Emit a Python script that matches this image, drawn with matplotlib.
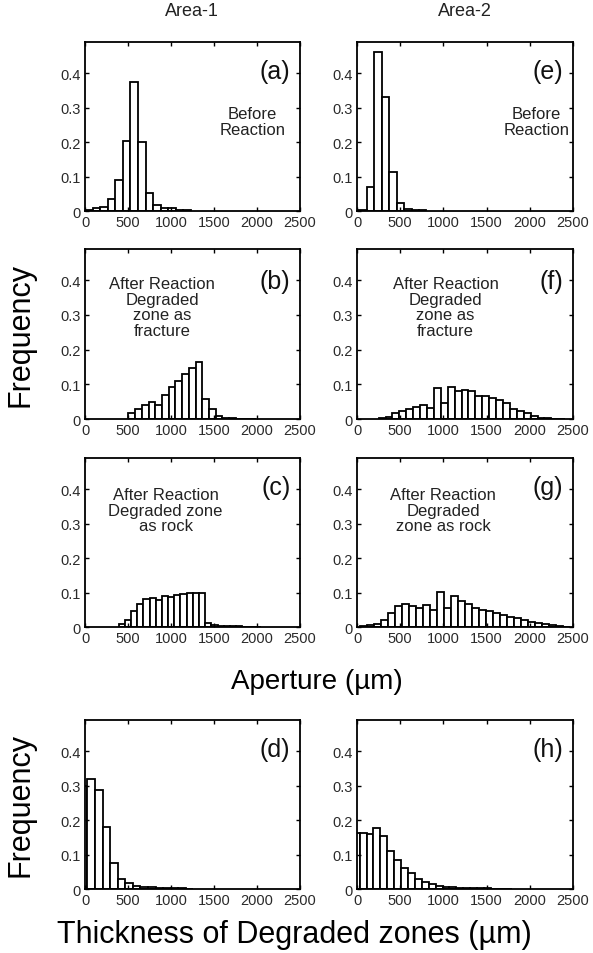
import numpy as np
import matplotlib
matplotlib.use('Agg')
import matplotlib.pyplot as plt

plt.rcParams['font.family'] = ['Liberation Sans', 'DejaVu Sans']

# ---- data: histogram bins (first edge, bin width) and frequencies ----
a_start, a_width = 0, 88
a_freq = [0.003, 0.008, 0.012, 0.036, 0.091, 0.204, 0.375, 0.200, 0.052, 0.018, 0.009, 0.008, 0.002, 0.002]

b_start, b_width = 505, 78
b_freq = [0.018, 0.030, 0.040, 0.050, 0.040, 0.070, 0.093, 0.110, 0.130, 0.147, 0.164, 0.059, 0.030, 0.008,
          0.002, 0.002, 0.001, 0.001, 0.001]

c_start, c_width = 390, 72
c_freq = [0.010, 0.020, 0.045, 0.067, 0.082, 0.084, 0.077, 0.090, 0.088, 0.094, 0.095, 0.100, 0.100, 0.100,
          0.012, 0.006, 0.004, 0.003, 0.002, 0.002, 0.001, 0.001, 0.001]

d_start, d_width = -60, 88
d_freq = [0.300, 0.320, 0.286, 0.180, 0.075, 0.030, 0.017, 0.010, 0.007, 0.005, 0.004, 0.003, 0.002, 0.002, 0.001]

e_start, e_width = 115, 86
e_freq = [0.070, 0.460, 0.330, 0.113, 0.022, 0.007, 0.002, 0.002]
e_first = 0.003   # small bar between 0 and the first bin

f_start, f_width = 250, 80
f_freq = [0.004, 0.007, 0.017, 0.024, 0.030, 0.035, 0.040, 0.033, 0.088, 0.045, 0.093, 0.080, 0.085, 0.080,
          0.065, 0.065, 0.060, 0.055, 0.045, 0.030, 0.022, 0.016, 0.008, 0.004, 0.002, 0.001, 0.001]

g_start, g_width = 30, 81
g_freq = [0.002, 0.005, 0.010, 0.020, 0.040, 0.061, 0.068, 0.061, 0.055, 0.064, 0.050, 0.102, 0.056, 0.090,
          0.076, 0.068, 0.056, 0.050, 0.045, 0.040, 0.035, 0.030, 0.025, 0.020, 0.015, 0.011, 0.008, 0.005,
          0.003, 0.001]

h_start, h_width = -50, 80
h_freq = [0.162, 0.162, 0.159, 0.177, 0.155, 0.110, 0.085, 0.060, 0.045, 0.030, 0.020, 0.015, 0.010, 0.007,
          0.005, 0.004, 0.003, 0.003, 0.002, 0.002, 0.001, 0.001, 0.001]

xticks = [0, 500, 1000, 1500, 2000, 2500]
yticks = [0, 0.1, 0.2, 0.3, 0.4]
ytick_labels = ['0', '0.1', '0.2', '0.3', '0.4']

panels = {
    'a': (a_start, a_width, a_freq, 'Before\nReaction', 0.78, 0.53),
    'b': (b_start, b_width, b_freq, 'After Reaction\nDegraded\nzone as\nfracture', 0.36, 0.66),
    'c': (c_start, c_width, c_freq, 'After Reaction\nDegraded zone\nas rock', 0.375, 0.69),
    'd': (d_start, d_width, d_freq, None, 0, 0),
    'e': (e_start, e_width, e_freq, 'Before\nReaction', 0.83, 0.53),
    'f': (f_start, f_width, f_freq, 'After Reaction\nDegraded\nzone as\nfracture', 0.41, 0.66),
    'g': (g_start, g_width, g_freq, 'After Reaction\nDegraded\nzone as rock', 0.40, 0.69),
    'h': (h_start, h_width, h_freq, None, 0, 0),
}

W, H = 593, 954
fig = plt.figure(figsize=(W / 100, H / 100), dpi=100)

cols = {'a': 0, 'b': 0, 'c': 0, 'd': 0, 'e': 1, 'f': 1, 'g': 1, 'h': 1}
rows = {'a': 0, 'b': 1, 'c': 2, 'd': 3, 'e': 0, 'f': 1, 'g': 2, 'h': 3}
col_px = [(85, 300), (357, 573)]
row_px = [(43, 212), (250, 420), (459, 628), (721, 890)]

for key, (start, width, freq, note, tx, ty) in panels.items():
    l, r = col_px[cols[key]]
    t, b = row_px[rows[key]]
    ax = fig.add_axes([l / W, 1 - b / H, (r - l) / W, (b - t) / H])
    centers = start + width * (np.arange(len(freq)) + 0.5)
    ax.bar(centers, freq, width=width, facecolor='white', edgecolor='black', linewidth=1.3)
    if key == 'e':
        ax.bar(start / 2, e_first, width=start, facecolor='white', edgecolor='black', linewidth=1.3)
    ax.set_xlim(0, 2500)
    ax.set_ylim(0, 0.49)
    ax.set_xticks(xticks)
    ax.set_yticks(yticks)
    ax.set_yticklabels(ytick_labels)
    ax.tick_params(direction='in', top=True, right=True, length=3, width=1,
                   labelsize=10.5, labelcolor='#2a2a2a', pad=3)
    for s in ax.spines.values():
        s.set_linewidth(1.3)
    ax.text(0.955, 0.83 if rows[key] != 1 else 0.81, '(%s)' % key, transform=ax.transAxes,
            ha='right', va='center', fontsize=18, color='#111111')
    if note:
        ax.text(tx, ty, note, transform=ax.transAxes, ha='center', va='center',
                fontsize=12, color='#222222', linespacing=1.05)

fig.text(192 / W, 1 - 12 / H, 'Area-1', ha='center', va='center', fontsize=13, color='#222222')
fig.text(465 / W, 1 - 12 / H, 'Area-2', ha='center', va='center', fontsize=13, color='#222222')
fig.text(20 / W, 1 - 335 / H, 'Frequency', rotation=90, ha='center', va='center', fontsize=22)
fig.text(20 / W, 1 - 805 / H, 'Frequency', rotation=90, ha='center', va='center', fontsize=22)
fig.text(317 / W, 1 - 682 / H, 'Aperture (µm)', ha='center', va='center', fontsize=20)
fig.text(294 / W, 1 - 935 / H, 'Thickness of Degraded zones (µm)', ha='center', va='center', fontsize=22)

fig.savefig('out.png', dpi=100)
